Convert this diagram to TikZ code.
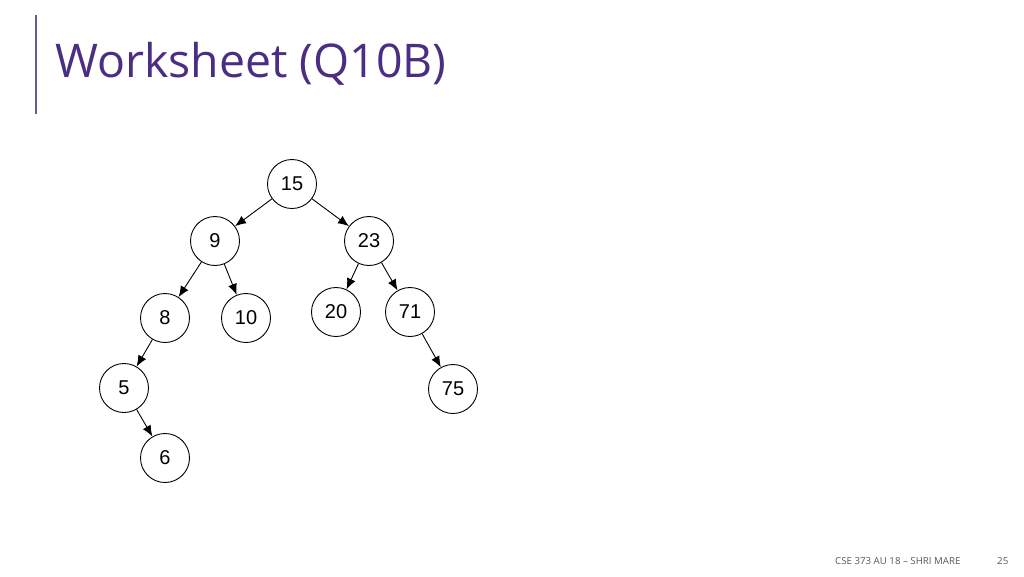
\documentclass[tikz,border=0pt]{standalone}
\usepackage{fontspec}
\setmainfont{Liberation Sans}
\newfontfamily\titlefont{Open Sans}
\usetikzlibrary{arrows.meta}
\definecolor{uwpurple}{HTML}{4B2E83}
\definecolor{linepurple}{HTML}{6A5A9A}
\definecolor{footgray}{HTML}{595959}
\begin{document}
\begin{tikzpicture}[x=1pt,y=-1pt,
  tnode/.style={circle,draw=black,line width=0.9pt,minimum size=49pt,inner sep=0pt,font=\fontsize{20}{20}\selectfont},
  edge/.style={line width=0.9pt,-{Latex[length=11pt,width=9pt]}}]
\useasboundingbox (0,0) rectangle (1024,576);
\fill[white] (0,0) rectangle (1024,576);
\draw[linepurple,line width=1.5pt] (36,15) -- (36,114);
\node[anchor=base west,inner sep=0pt,text=uwpurple,font=\titlefont\fontsize{46.4}{46}\selectfont] (title) at (55,77) {Worksheet (Q10B)};
\node (n15) [tnode] at (292,184) {15};
\node (n9) [tnode] at (215,241) {9};
\node (n23) [tnode] at (369,241) {23};
\node (n8) [tnode] at (165,318) {8};
\node (n10) [tnode] at (246,318) {10};
\node (n20) [tnode] at (336,312) {20};
\node (n71) [tnode] at (410,312) {71};
\node (n5) [tnode] at (124,388) {5};
\node (n75) [tnode] at (453,389) {75};
\node (n6) [tnode] at (165,458) {6};
\draw[edge] (n15) -- (n9);
\draw[edge] (n15) -- (n23);
\draw[edge] (n9) -- (n8);
\draw[edge] (n9) -- (n10);
\draw[edge] (n23) -- (n20);
\draw[edge] (n23) -- (n71);
\draw[edge] (n8) -- (n5);
\draw[edge] (n71) -- (n75);
\draw[edge] (n5) -- (n6);
\node[anchor=base west,inner sep=0pt,text=footgray,font=\titlefont\fontsize{9.7}{10}\selectfont] (foot) at (835,564) {CSE 373 AU 18 – SHRI MARE};
\node[anchor=base west,inner sep=0pt,text=footgray,font=\titlefont\fontsize{9.7}{10}\selectfont] (page) at (997,564) {25};
\end{tikzpicture}
\end{document}
